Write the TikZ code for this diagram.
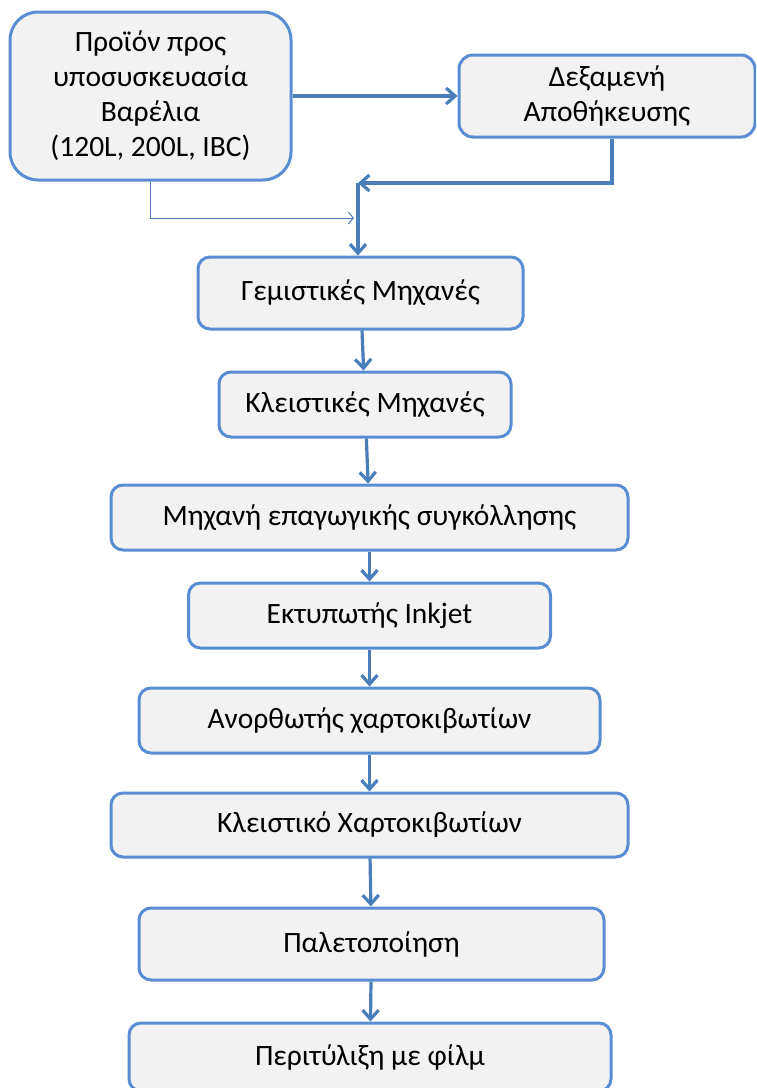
\documentclass[tikz,border=0pt]{standalone}
\usepackage{fontspec}
\setmainfont{Carlito}
\usetikzlibrary{arrows.meta,positioning}
\definecolor{boxline}{HTML}{588DD3}
\definecolor{boxfill}{HTML}{F2F2F2}
\definecolor{arrowline}{HTML}{4A7EBB}

\begin{document}
\begin{tikzpicture}[
            x = 1pt, y = 1pt,
            > = {Straight Barb[length=9pt,width=16pt]}, % arrow head style
            box/.style = {draw=boxline, fill=boxfill, line width=3pt,
              rounded corners=12pt, align=center, inner sep=0pt,
              font=\fontsize{29.5}{35}\selectfont},
            flow/.style = {->, draw=arrowline, line width=3.2pt}, % main line
            thinflow/.style = {-{Straight Barb[length=5pt,width=12pt]},
              draw=arrowline, line width=1pt} % side line
        ]
	\useasboundingbox (0,0) rectangle (756,-1088);
	\clip (0,0) rectangle (756,-1088);

	\node[box, rounded corners=28pt, minimum width=281pt, minimum height=168pt] (prod) at (150.5,-96)
	  {Προϊόν προς\\υποσυσκευασία\\Βαρέλια\\(120L, 200L, IBC)};
	\node[box, rounded corners=14pt, minimum width=296pt, minimum height=82pt] (tank) at (607,-96)
	  {Δεξαμενή\\Αποθήκευσης};

	\node[box, minimum width=325pt, minimum height=72pt] (gem) at (360.5,-293) {Γεμιστικές Μηχανές};
	\node[box, minimum width=292pt, minimum height=65pt] (kleist) [below=40pt of gem, xshift=4.5pt] {Κλειστικές Μηχανές};
	\node[box, minimum width=517pt, minimum height=65pt] (epag) [below=45pt of kleist, xshift=4.5pt] {Μηχανή επαγωγικής συγκόλλησης};
	\node[box, minimum width=362pt, minimum height=65pt] (ink) [below=30pt of epag] {Εκτυπωτής Inkjet};
	\node[box, minimum width=461pt, minimum height=65pt] (anor) [below=37pt of ink] {Ανορθωτής χαρτοκιβωτίων};
	\node[box, minimum width=517pt, minimum height=64pt] (klcart) [below=37pt of anor] {Κλειστικό Χαρτοκιβωτίων};
	\node[box, minimum width=465pt, minimum height=72pt] (palet) [below=48pt of klcart, xshift=2pt] {Παλετοποίηση};
	\node[box, minimum width=482pt, minimum height=68pt] (perit) [below=40pt of palet, xshift=-1.5pt] {Περιτύλιξη με φίλμ};

	\coordinate (merge) at (358,-183);
	\coordinate (join) at (354,-218);

	\draw[flow] (prod) -- (tank);
	\draw[flow] ([xshift=5pt]tank.south) |- (merge);
	\draw[thinflow] (prod.south) |- (join);
	\draw[flow] (merge) -- (merge |- gem.north);
	\draw[flow] (gem) -- (kleist);
	\draw[flow] (kleist) -- (epag);
	\draw[flow] (epag) -- (ink);
	\draw[flow] (ink) -- (anor);
	\draw[flow] (anor) -- (klcart);
	\draw[flow] (klcart) -- (palet);
	\draw[flow] (palet) -- (perit);

\end{tikzpicture}
\end{document}
